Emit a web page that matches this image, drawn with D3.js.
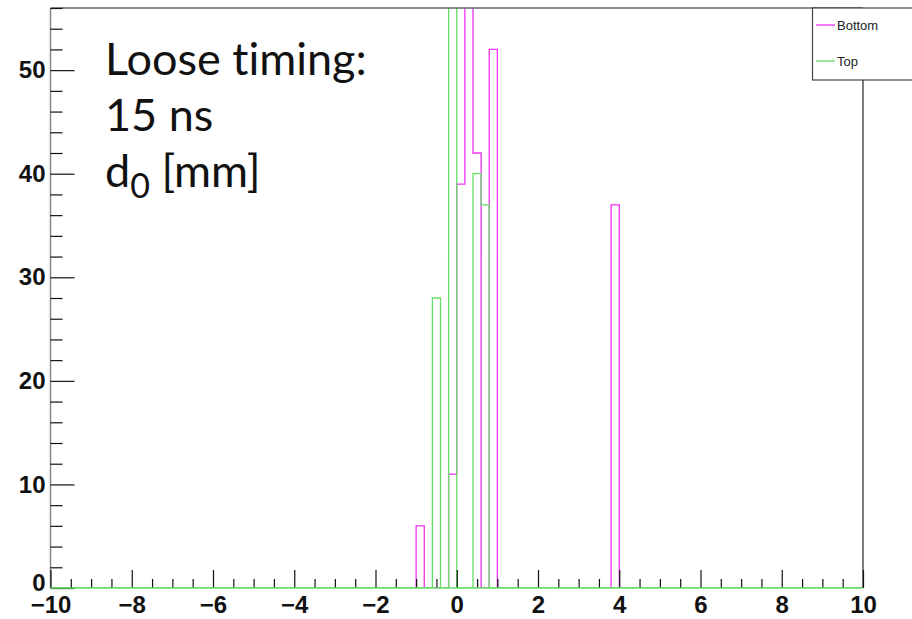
<!DOCTYPE html>
<html>
<head>
<meta charset="utf-8">
<script src="https://cdn.jsdelivr.net/npm/d3@7"></script>
<style>
  body { margin:0; background:#fff; }
  svg { display:block; }
  .note { font-variant-ligatures: none; font-feature-settings: "liga" 0, "clig" 0; }
</style>
</head>
<body>
<svg id="chart" width="912" height="619"></svg>
<script>
// binning: 100 bins of 0.2 from -10 to 10
var binLo = -10, binHi = 10, binWidth = 0.2;

// non-empty bins (lower edge) and counts
var bottomEdges  = [-1.0, -0.2, 0.0, 0.2, 0.4, 0.8, 3.8];
var bottomCounts = [6, 11, 39, 60, 42, 52, 37];
var topEdges     = [-0.6, -0.2, 0.4, 0.6];
var topCounts    = [28, 62, 40, 37];

var xMajorTicks = [-10, -8, -6, -4, -2, 0, 2, 4, 6, 8, 10];
var yMajorTicks = [0, 10, 20, 30, 40, 50];
var yMax = 56;

var seriesNames  = ["Bottom", "Top"];
var seriesColors = ["#f030f0", "#66dd66"];

var noteLines = ["Loose timing:", "15 ns"];

+function(){
    var svg = d3.select("#chart");
    var left = 50.5, right = 863, top = 8, bottom = 588;

    var x = d3.scaleLinear().domain([binLo, binHi]).range([left, right]);
    var y = d3.scaleLinear().domain([0, yMax]).range([bottom, top]);

    svg.append("rect").attr("width", 912).attr("height", 619).attr("fill", "#fff");

    // clip for frame
    svg.append("clipPath").attr("id", "frame")
        .append("rect").attr("x", left).attr("y", top)
        .attr("width", right - left).attr("height", bottom - top);

    // full bin arrays from the sparse lists
    function fillBins(edges, counts){
        var n = Math.round((binHi - binLo) / binWidth), bins = [];
        for (var i = 0; i < n; i++) bins.push({lo: binLo + i * binWidth, v: 0});
        edges.forEach(function(e, k){
            var i = Math.round((e - binLo) / binWidth);
            bins[i].v = counts[k];
        });
        return bins;
    }

    var step = d3.line()
        .x(function(d){ return x(d.lo); })
        .y(function(d){ return y(d.v); })
        .curve(d3.curveStepAfter);

    var hists = [fillBins(bottomEdges, bottomCounts), fillBins(topEdges, topCounts)];
    hists.forEach(function(bins, i){
        // close at the baseline like ROOT does
        var pts = [{lo: binLo, v: 0}].concat(bins).concat([{lo: binHi, v: bins[bins.length - 1].v}, {lo: binHi, v: 0}]);
        svg.append("path")
            .attr("clip-path", "url(#frame)")
            .attr("d", step(pts))
            .attr("fill", "none")
            .attr("stroke", seriesColors[i])
            .attr("stroke-width", 1.3);
    });

    // frame lines
    svg.append("line").attr("x1", left).attr("x2", right).attr("y1", top).attr("y2", top)
        .attr("stroke", "#666").attr("stroke-width", 1.5);
    svg.append("line").attr("x1", left).attr("x2", left).attr("y1", top).attr("y2", bottom)
        .attr("stroke", "#888").attr("stroke-width", 1.5);
    svg.append("line").attr("x1", right).attr("x2", right).attr("y1", top).attr("y2", bottom)
        .attr("stroke", "#333").attr("stroke-width", 1.3);

    // x axis: major + minor ticks pointing up
    var xMinor = d3.range(binLo, binHi + 0.01, 0.5).filter(function(v){ return v % 2 !== 0; });
    var gxm = svg.append("g").attr("transform", "translate(0," + bottom + ")")
        .call(d3.axisBottom(x).tickValues(xMinor).tickSize(-9).tickFormat(""));
    var gx = svg.append("g").attr("transform", "translate(0," + bottom + ")")
        .call(d3.axisBottom(x).tickValues(xMajorTicks).tickSize(-18).tickPadding(8).tickFormat(d3.format("d")));

    // y axis
    var yMinor = d3.range(0, yMax + 0.01, 2).filter(function(v){ return v % 10 !== 0; });
    var gym = svg.append("g").attr("transform", "translate(" + left + ",0)")
        .call(d3.axisLeft(y).tickValues(yMinor).tickSize(-12).tickFormat(""));
    var gy = svg.append("g").attr("transform", "translate(" + left + ",0)")
        .call(d3.axisLeft(y).tickValues(yMajorTicks).tickSize(-24).tickPadding(5).tickFormat(d3.format("d")));

    [gxm, gx, gym, gy].forEach(function(g){
        g.select(".domain").remove();
        g.selectAll("line").attr("stroke", "#111").attr("stroke-width", 1.2);
        g.selectAll("text").attr("font-family", "Liberation Sans, Arial, sans-serif")
            .attr("font-weight", "bold").attr("font-size", 24).attr("fill", "#111");
    });
    // the "0" label sits just above the "-10" label
    gy.selectAll("text").filter(function(d){ return d === 0; }).attr("dy", "0.1em");

    // green zero line of the last drawn histogram over the bottom edge
    svg.append("line").attr("x1", left).attr("x2", right).attr("y1", bottom).attr("y2", bottom)
        .attr("stroke", seriesColors[1]).attr("stroke-width", 1.5);

    // legend box
    var lg = svg.append("g");
    lg.append("rect").attr("x", 812.5).attr("y", 8).attr("width", 120).attr("height", 72)
        .attr("fill", "#fff").attr("stroke", "#444").attr("stroke-width", 1.2);
    seriesNames.forEach(function(name, i){
        var ly = 25 + i * 36;
        lg.append("line").attr("x1", 816).attr("x2", 835).attr("y1", ly).attr("y2", ly)
            .attr("stroke", seriesColors[i]).attr("stroke-width", 1.3);
        lg.append("text").attr("x", 837).attr("y", ly + 5).text(name)
            .attr("font-family", "Liberation Sans, Arial, sans-serif")
            .attr("font-size", 13).attr("fill", "#222");
    });

    // annotation
    var note = svg.append("text").attr("class", "note")
        .attr("font-family", "Lato, 'Open Sans', sans-serif")
        .attr("font-size", 45).attr("fill", "#111");
    noteLines.forEach(function(t, i){
        note.append("tspan").attr("x", 105).attr("y", 75 + i * 56).text(t);
    });
    note.append("tspan").attr("x", 105).attr("y", 187).text("d");
    note.append("tspan").attr("dy", 11).attr("font-size", 34).text("0");
    note.append("tspan").attr("dy", -11).text(" [mm]");
}();
</script>
</body>
</html>
